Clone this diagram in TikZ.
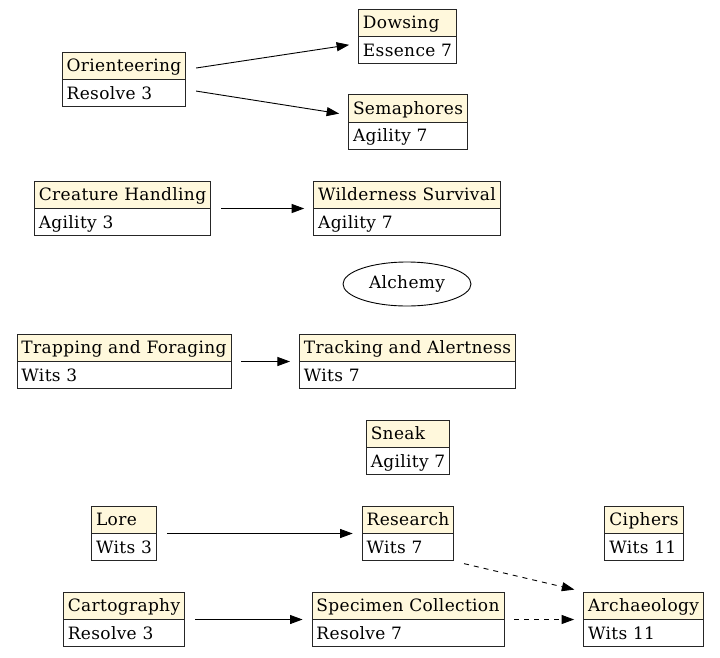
\documentclass[tikz,border=0pt]{standalone}
\usepackage{fontspec}
\setmainfont{DejaVu Serif}[LetterSpace=2]
\usetikzlibrary{arrows.meta,shapes.geometric,shapes.multipart,positioning}
\definecolor{head}{HTML}{FFF8DC}
\newcommand{\rowstrut}{\rule[-4.2pt]{0pt}{20pt}}

\begin{document}
\begin{tikzpicture}[x=1pt,y=-1pt,line width=0.9pt,-{Triangle[length=12.5pt,width=9pt]},shorten >=9pt,shorten <=10pt]
\tikzstyle{skill} = [draw=black!85, rectangle split, rectangle split parts=2, rectangle split part fill={head,white}, rectangle split part align=left, inner xsep=4.5pt, inner ysep=3.25pt, font=\fontsize{17}{19}\selectfont, -]
\tikzstyle{dep} = [dash pattern=on 5pt off 5pt]
\useasboundingbox (0,0) rectangle (720,657);

\node [skill] (orient) at (124,79.5) {\rowstrut Orienteering \nodepart{two}\rowstrut Resolve 3};
\node [skill] (dowsing) at (407.5,36.5) {\rowstrut Dowsing \nodepart{two}\rowstrut Essence 7};
\draw ([yshift=10]orient.east) -- ([yshift=-7]dowsing.west);

\node [skill] (sema) at (408,122) {\rowstrut Semaphores \nodepart{two}\rowstrut Agility 7};
\draw ([yshift=-10]orient.east) -- ([yshift=7]sema.west);

\node [skill] (creature) at (122.5,208.5) {\rowstrut Creature Handling \nodepart{two}\rowstrut Agility 3};
\node [skill] (wild) at (407,208.5) {\rowstrut Wilderness Survival \nodepart{two}\rowstrut Agility 7};
\draw (creature) -- (wild);

\node [draw, -, ellipse, minimum width=128pt, minimum height=44pt, font=\fontsize{17}{19}\selectfont] (alchemy) at (407,284) {Alchemy};

\node [skill] (trapping) at (124,361.5) {\rowstrut Trapping and Foraging \nodepart{two}\rowstrut Wits 3};
\node [skill] (tracking) at (407.5,361.5) {\rowstrut Tracking and Alertness \nodepart{two}\rowstrut Wits 7};
\draw (trapping) -- (tracking);

\node [skill] (sneak) at (408,447.5) {\rowstrut Sneak \nodepart{two}\rowstrut Agility 7};

\node [skill] (lore) at (124,533.5) {\rowstrut Lore \nodepart{two}\rowstrut Wits 3};
\node [skill] (research) at (408,533.5) {\rowstrut Research \nodepart{two}\rowstrut Wits 7};
\draw (lore) -- (research);

\node [skill] (ciphers) at (644,533.5) {\rowstrut Ciphers \nodepart{two}\rowstrut Wits 11};

\node [skill] (carto) at (124,619.5) {\rowstrut Cartography \nodepart{two}\rowstrut Resolve 3};
\node [skill] (specimen) at (408,619.5) {\rowstrut Specimen Collection \nodepart{two}\rowstrut Resolve 7};
\draw (carto) -- (specimen);

\node [skill] (archaeo) at (643.5,619.5) {\rowstrut Archaeology \nodepart{two}\rowstrut Wits 11};
\draw [dep] (research.south east) -- (archaeo.north west);
\draw [dep] (specimen) -- (archaeo);

\end{tikzpicture}
\end{document}
